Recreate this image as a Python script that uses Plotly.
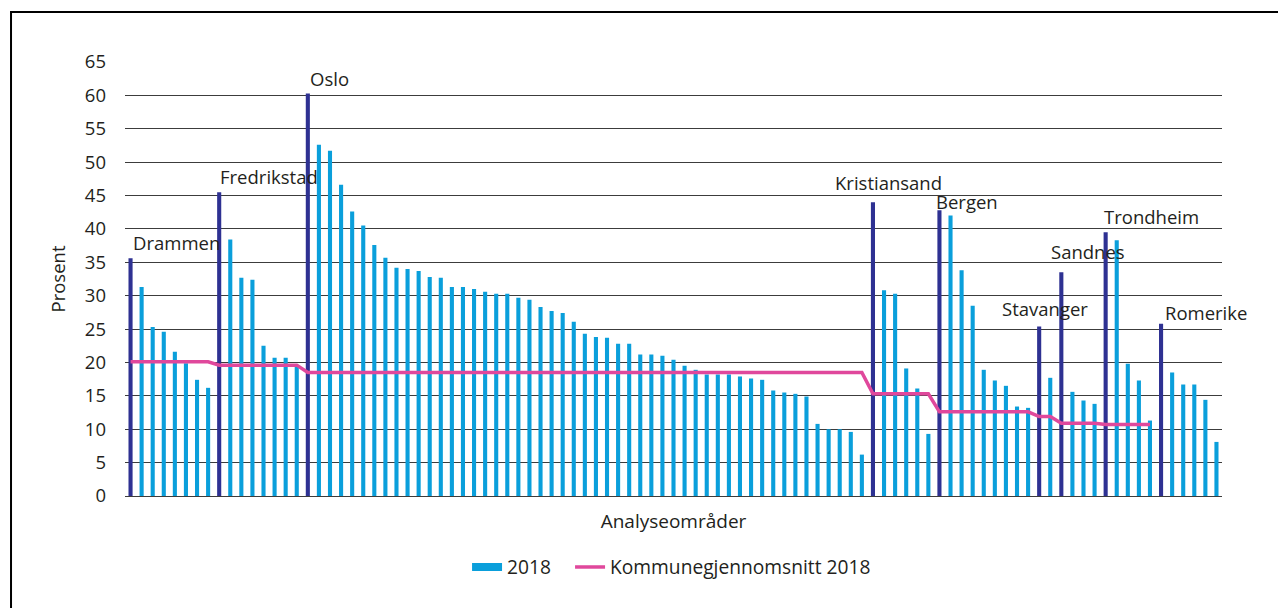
import plotly.graph_objects as go

# Analyseområder, grouped by the city region they belong to
areas = ["Drammen", "Fredrikstad", "Oslo", "Kristiansand", "Bergen",
         "Stavanger", "Sandnes", "Trondheim", "Romerike"]

# share in percent, 2018 - first value in each list is the region itself
drammen = [35.6, 31.3, 25.3, 24.6, 21.6, 19.9, 17.4, 16.2]
fredrikstad = [45.5, 38.4, 32.7, 32.4, 22.5, 20.7, 20.7, 19.4]
oslo = [60.3, 52.6, 51.7, 46.6, 42.6, 40.5, 37.6, 35.7, 34.2, 34.0,
        33.7, 32.8, 32.7, 31.3, 31.3, 31.0, 30.6, 30.3, 30.3, 29.7,
        29.4, 28.3, 27.7, 27.4, 26.1, 24.3, 23.8, 23.7, 22.8, 22.8,
        21.2, 21.2, 21.0, 20.4, 19.5, 18.9, 18.2, 18.2, 18.2, 17.9,
        17.6, 17.4, 15.8, 15.5, 15.3, 14.9, 10.8, 10.0, 10.0, 9.6, 6.2]
kristiansand = [44.0, 30.8, 30.3, 19.1, 16.1, 9.3]
bergen = [42.8, 42.0, 33.8, 28.5, 18.9, 17.3, 16.5, 13.4, 13.2]
stavanger = [25.4, 17.7]
sandnes = [33.5, 15.6, 14.3, 13.8]
trondheim = [39.5, 38.3, 19.8, 17.3, 11.3]
romerike = [25.8, 18.5, 16.7, 16.7, 14.4, 8.1]

# municipal average per region (none drawn for Romerike)
kommune_avg = [20.1, 19.6, 18.5, 15.3, 12.6, 11.9, 10.9, 10.7, None]

values_by_area = [drammen, fredrikstad, oslo, kristiansand, bergen,
                  stavanger, sandnes, trondheim, romerike]

DARK = "#2e3192"
LIGHT = "#0a9fdb"
PINK = "#e0489c"
TEXT = "#231f20"
FONT = "Open Sans"

# label placement next to the region bar (xshift, yshift in px)
label_shift = {
    "Drammen": (0, 16), "Fredrikstad": (-1, 16), "Oslo": (0, 15),
    "Kristiansand": (-40, 20), "Bergen": (-5, 9), "Stavanger": (-39, 18),
    "Sandnes": (-12, 21), "Trondheim": (-4, 16), "Romerike": (2, 11),
}

x, y, colors, avg_line = [], [], [], []
first_idx = {}
for name, vals, avg in zip(areas, values_by_area, kommune_avg):
    for i, v in enumerate(vals):
        if i == 0:
            first_idx[name] = len(x)
        x.append(len(x))
        y.append(v)
        colors.append(DARK if i == 0 else LIGHT)
        avg_line.append(avg)

fig = go.Figure()
fig.add_trace(go.Bar(x=x, y=y, marker=dict(color=colors, line_width=0),
                     width=0.37, showlegend=False))
# legend entry for the bars, drawn as a thick line like the original
fig.add_trace(go.Scatter(x=[None], y=[None], mode="lines", name="2018",
                         line=dict(color=LIGHT, width=8), legend="legend"))
fig.add_trace(go.Scatter(x=x, y=avg_line, mode="lines",
                         name="Kommunegjennomsnitt 2018",
                         line=dict(color=PINK, width=3.5), legend="legend2"))

for name in areas:
    i = first_idx[name]
    dx, dy = label_shift[name]
    fig.add_annotation(x=i, y=y[i], text=name, showarrow=False,
                       xanchor="left", yanchor="middle", xshift=dx, yshift=dy,
                       font=dict(family=FONT, size=18.5, color=TEXT))

legend_style = dict(orientation="h", xanchor="left", y=-0.1636,
                    yanchor="middle", font=dict(size=19.2))

# the page body adds 8px on the left/top, so margins are 8px smaller
fig.update_layout(
    width=1286, height=608,
    margin=dict(l=117, r=72, t=54, b=120),
    plot_bgcolor="white", paper_bgcolor="white",
    font=dict(family=FONT, size=18.5, color=TEXT),
    bargap=0.6,
    legend=dict(x=0.3118, **legend_style),
    legend2=dict(x=0.4057, **legend_style),
    shapes=[dict(type="rect", xref="paper", yref="paper",
                 x0=-0.1039, x1=1.08, y0=-0.30, y1=1.1152,
                 line=dict(color="black", width=2))],
)
fig.update_xaxes(range=[-0.5, len(x) - 0.5], showticklabels=False,
                 showgrid=False, zeroline=False,
                 title=dict(text="Analyseområder", standoff=18,
                            font=dict(size=19)))
fig.update_yaxes(range=[0, 65], dtick=5, showgrid=True, gridcolor="#3c3c3c",
                 gridwidth=1.2, zeroline=True, zerolinecolor="#3c3c3c",
                 zerolinewidth=1.2, ticklabelstandoff=18,
                 tickfont=dict(size=18.5),
                 title=dict(text="Prosent", standoff=14, font=dict(size=18.5)))

fig.write_html("out.html")
